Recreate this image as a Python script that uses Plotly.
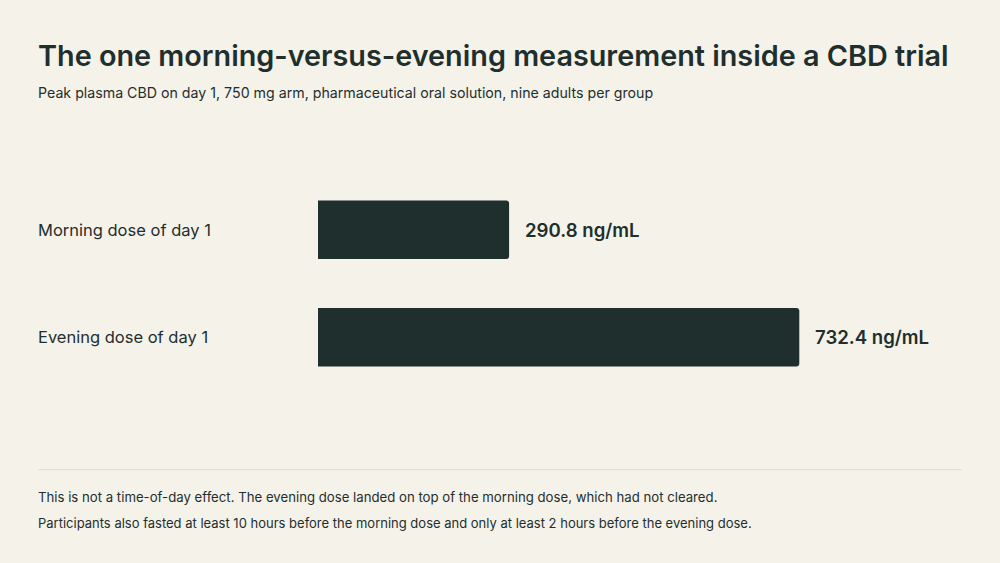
import plotly.graph_objects as go

categories = ["Morning dose of day 1", "Evening dose of day 1"]
values = [290.8, 732.4]
value_labels = ["290.8 ng/mL", "732.4 ng/mL"]

BG = "#f5f2ea"
INK = "#1e2f2d"
FONT = "Inter"

W, H = 1000, 563
L, R = 318, 38
T, B = 175.5, 171.5
pw = W - L - R
XL = (38 - L) / pw

fig = go.Figure()
fig.add_trace(go.Bar(
    x=values, y=categories, orientation="h",
    marker=dict(color=INK, line=dict(width=0)),
    width=0.546, hoverinfo="skip",
))

ann = []
for c, v, t in zip(categories, values, value_labels):
    ann.append(dict(x=v, y=c, xref="x", yref="y", text=t, showarrow=False,
                    xanchor="left", yanchor="middle", xshift=14,
                    font=dict(family=FONT, size=18.6, color=INK, weight=600)))
    ann.append(dict(x=XL, y=c, xref="paper", yref="y", text=c,
                    showarrow=False, xanchor="left", yanchor="middle", xshift=-2,
                    font=dict(family=FONT, size=16.5, color=INK)))

def py(ypx):
    return (H - B - ypx) / (H - T - B)

def txt(y, s, size, weight=400):
    return dict(x=XL, y=py(y), xref="paper", yref="paper", text=s,
                showarrow=False, xanchor="left", yanchor="middle", xshift=-2,
                font=dict(family=FONT, size=size, color=INK, weight=weight))

ann.append(txt(54.5, "The one morning-versus-evening measurement inside a CBD trial", 28.8, 600))
ann.append(txt(92, "Peak plasma CBD on day 1, 750 mg arm, pharmaceutical oral solution, nine adults per group", 14.2))
ann.append(txt(498, "This is not a time-of-day effect. The evening dose landed on top of the morning dose, which had not cleared.", 13.2))
ann.append(txt(524, "Participants also fasted at least 10 hours before the morning dose and only at least 2 hours before the evening dose.", 13.0))

fig.update_layout(
    width=W, height=H,
    margin=dict(l=L, r=R, t=T, b=B, pad=0),
    paper_bgcolor=BG, plot_bgcolor=BG,
    barcornerradius=3,
    showlegend=False,
    xaxis=dict(range=[0, 980], visible=False, fixedrange=True),
    yaxis=dict(categoryorder="array", categoryarray=categories, autorange="reversed",
               range=[1.5, -0.5], visible=False, fixedrange=True),
    annotations=ann,
    shapes=[dict(type="line", xref="paper", yref="paper",
                 x0=XL, x1=1, y0=py(470.5), y1=py(470.5),
                 line=dict(color="#e0ddd4", width=1))],
    font=dict(family=FONT, color=INK),
)

fig.write_html("out.html", config={"displayModeBar": False})

with open("out.html", "r", encoding="utf-8") as f:
    html = f.read()
html = html.replace("<body>", '<body style="margin:0;background:%s">' % BG, 1)
with open("out.html", "w", encoding="utf-8") as f:
    f.write(html)
